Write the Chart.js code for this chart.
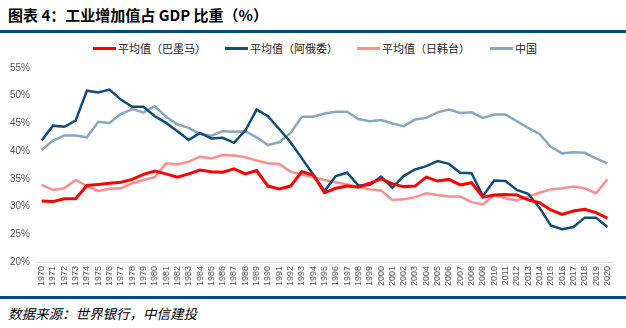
<!DOCTYPE html>
<html>
<head>
<meta charset="utf-8">
<script src="https://cdn.jsdelivr.net/npm/chart.js@4.4.1/dist/chart.umd.min.js"></script>
<style>
  body { margin: 0; background: #fff; }
  #page { position: relative; width: 626px; height: 328px; overflow: hidden; background: #fff; }
  .title { position: absolute; left: 8px; top: 4px; font: bold 15px "Noto Sans CJK SC", sans-serif; color: #000; white-space: nowrap; }
  .rule { position: absolute; left: 0; width: 626px; height: 3px; background: #0b4a80; }
  .source { position: absolute; left: 8px; top: 303px; font: italic 13.5px "Noto Sans CJK SC", sans-serif; color: #000; white-space: nowrap; }
  #legend { position: absolute; left: 0; top: 40px; width: 626px; height: 16px; }
  .item { position: absolute; top: 0; height: 16px; display: flex; align-items: center; font: 11px "Noto Sans CJK SC", sans-serif; color: #222; white-space: nowrap; }
  .swatch { width: 23px; height: 3px; margin-right: 2px; }
  #wrap { position: absolute; left: 0; top: 56px; width: 626px; height: 240px; }
</style>
</head>
<body>
<div id="page">
  <div class="title">图表 4：工业增加值占 GDP 比重（%）</div>
  <div class="rule" style="top:30px"></div>
  <div id="legend"></div>
  <div id="wrap"><canvas id="lineChart"></canvas></div>
  <div class="rule" style="top:296px"></div>
  <div class="source">数据来源：世界银行，中信建投</div>
</div>
<script>
const years = [];
for (let y = 1970; y <= 2020; y++) years.push(String(y));

// 工业增加值占 GDP 比重，单位 %
const avgBMM = [
  31.0, 30.9, 31.4, 31.4, 33.8, 34.0, 34.2, 34.4, 34.9, 35.8,
  36.4, 35.9, 35.3, 35.9, 36.6, 36.3, 36.2, 36.8, 35.9, 36.5,
  33.7, 33.2, 33.7, 36.3, 35.7, 32.5, 33.3, 33.7, 33.5, 34.2,
  35.0, 34.1, 33.6, 33.7, 35.3, 34.6, 34.9, 33.9, 34.3, 31.7,
  32.1, 32.2, 32.1, 31.2, 30.7, 29.4, 28.6, 29.2, 29.5, 28.9, 27.9
];
const avgAEW = [
  41.9, 44.6, 44.4, 45.5, 50.9, 50.6, 51.1, 49.3, 48.0, 48.0,
  46.3, 45.1, 43.6, 42.0, 43.3, 42.3, 42.4, 41.5, 43.7, 47.5,
  46.3, 44.0, 41.6, 38.7, 35.8, 32.8, 35.5, 36.1, 33.8, 33.9,
  35.4, 33.4, 35.5, 36.7, 37.3, 38.2, 37.7, 36.1, 36.0, 31.9,
  34.7, 34.6, 33.0, 32.3, 29.8, 26.6, 25.9, 26.3, 28.0, 28.0, 26.3
];
const avgRHT = [
  33.9, 33.0, 33.3, 34.8, 33.7, 32.8, 33.2, 33.3, 34.2, 34.8,
  35.3, 37.8, 37.6, 38.1, 39.0, 38.7, 39.3, 39.2, 38.9, 38.3,
  37.8, 37.7, 36.3, 35.8, 35.3, 34.8, 34.4, 34.0, 33.6, 33.1,
  32.9, 31.2, 31.3, 31.7, 32.4, 32.1, 31.8, 31.8, 30.8, 30.4,
  32.1, 31.5, 31.1, 31.8, 32.5, 33.1, 33.3, 33.6, 33.3, 32.4, 34.9
];
const china = [
  40.2, 41.9, 42.8, 42.8, 42.5, 45.3, 45.1, 46.7, 47.6, 47.0,
  48.1, 46.2, 44.8, 44.2, 43.1, 42.8, 43.6, 43.5, 43.6, 42.5,
  41.1, 41.6, 43.3, 46.2, 46.2, 46.8, 47.1, 47.1, 45.8, 45.4,
  45.6, 45.0, 44.5, 45.7, 46.0, 47.0, 47.5, 46.9, 47.0, 46.0,
  46.6, 46.6, 45.4, 44.2, 43.1, 40.8, 39.6, 39.8, 39.7, 38.7, 37.8
];
const yTicks = [20, 25, 30, 35, 40, 45, 50, 55];

const series = [
  { label: '平均值（巴墨马）', data: avgBMM, color: '#ff0000', width: 3, left: 93 },
  { label: '平均值（阿俄委）', data: avgAEW, color: '#0e4d7c', width: 2.5, left: 225 },
  { label: '平均值（日韩台）', data: avgRHT, color: '#ff8e8e', width: 2.5, left: 357 },
  { label: '中国', data: china, color: '#87a7c4', width: 2.5, left: 490 }
];

// legend
const legendEl = document.getElementById('legend');
series.forEach(s => {
  const item = document.createElement('div');
  item.className = 'item';
  item.style.left = s.left + 'px';
  item.innerHTML = `<span class="swatch" style="background:${s.color}"></span>${s.label}`;
  legendEl.appendChild(item);
});

const tickColor = '#595959';

new Chart(document.getElementById('lineChart'), {
  type: 'line',
  data: {
    labels: years,
    datasets: series.map(s => ({
      label: s.label,
      data: s.data,
      borderColor: s.color,
      backgroundColor: s.color,
      borderWidth: s.width,
      pointRadius: 0,
      tension: 0,
      fill: false
    }))
  },
  options: {
    responsive: true,
    maintainAspectRatio: false,
    animation: false,
    layout: { padding: { top: 12, right: 13, left: 4, bottom: 0 } },
    plugins: {
      legend: { display: false },
      tooltip: { enabled: false }
    },
    scales: {
      x: {
        offset: true,
        grid: { display: false, drawTicks: false },
        border: { display: true, color: '#d9d9d9', width: 1 },
        afterFit: scale => { scale.height = 34; },
        ticks: {
          autoSkip: false,
          minRotation: 90,
          maxRotation: 90,
          padding: 4,
          color: tickColor,
          font: { family: 'Liberation Sans', size: 9 }
        }
      },
      y: {
        min: 20,
        max: 55,
        grid: { display: false, drawTicks: false },
        border: { display: false },
        afterBuildTicks: scale => { scale.ticks = yTicks.map(v => ({ value: v })); },
        afterFit: scale => { scale.width = 32; },
        ticks: {
          padding: 6,
          color: tickColor,
          font: { family: 'Liberation Sans', size: 10 },
          callback: v => v + '%'
        }
      }
    }
  }
});
</script>
</body>
</html>
